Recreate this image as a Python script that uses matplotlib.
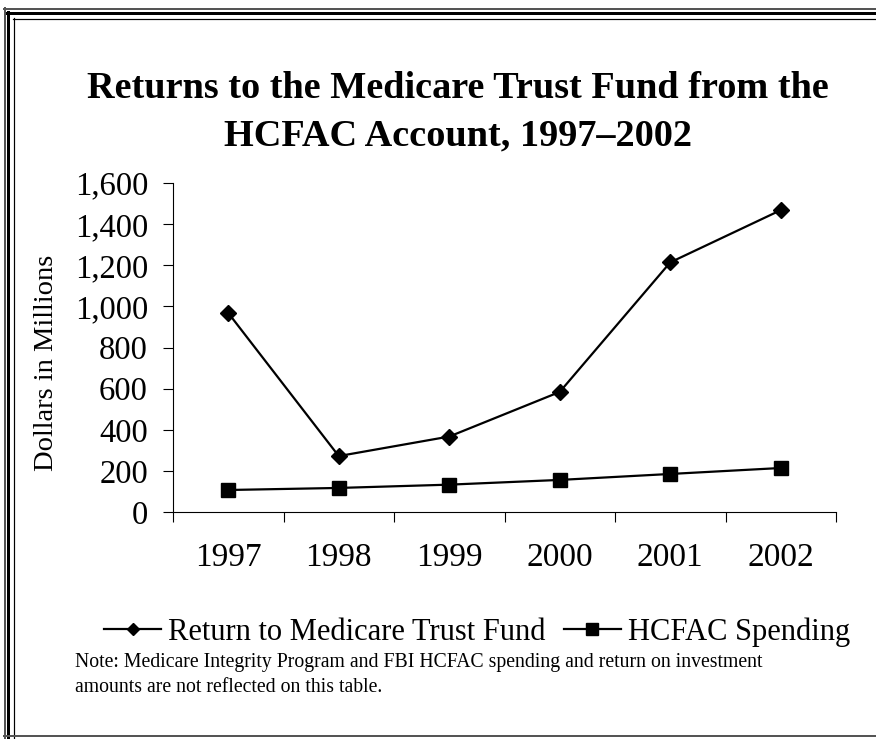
import numpy as np
import matplotlib.pyplot as plt
from matplotlib.lines import Line2D

years = ["1997", "1998", "1999", "2000", "2001", "2002"]
returns = [968, 272, 367, 584, 1214, 1468]
spending = [107, 117, 133, 156, 185, 214]
yticks = [0, 200, 400, 600, 800, 1000, 1200, 1400, 1600]

plt.rcParams["font.family"] = ["Liberation Serif", "DejaVu Serif"]

W, H = 876, 739
fig = plt.figure(figsize=(W / 100, H / 100), dpi=100)

# frame lines (pixel coords converted to figure fractions)
def hline(y, x0, x1, lw, color):
    fig.add_artist(Line2D([x0 / W, x1 / W], [1 - y / H, 1 - y / H], lw=lw * 0.72,
                          color=color, transform=fig.transFigure))

def vline(x, y0, y1, lw, color):
    fig.add_artist(Line2D([x / W, x / W], [1 - y0 / H, 1 - y1 / H], lw=lw * 0.72,
                          color=color, transform=fig.transFigure))

hline(8.5, 4, W, 2, "#555555")
hline(13, 6, W, 3, "black")
hline(18.5, 13, W, 1.2, "black")
vline(4.5, 8, H, 2, "#555555")
vline(7.5, 12, H, 3, "black")
vline(13.5, 18, H, 1.2, "black")
hline(736, 4, W, 2, "#555555")

ax = fig.add_axes([173 / W, 1 - 512 / H, 663 / W, 329 / H])
x = np.arange(len(years))
l1, = ax.plot(x, returns, color="black", lw=1.6, marker="D", markersize=8)
l2, = ax.plot(x, spending, color="black", lw=1.6, marker="s", markersize=10)

ax.set_xlim(-0.5, len(years) - 0.5)
ax.set_ylim(0, 1600)
ax.set_yticks(yticks)
ax.set_yticklabels([f"{v:,}" for v in yticks])
ax.set_xticks(np.arange(-0.5, len(years)))
ax.set_xticklabels([])
ax.set_xticks(x, minor=True)
ax.set_xticklabels(years, minor=True)
ax.tick_params(axis="x", which="major", direction="out", length=7, width=0.8)
ax.tick_params(axis="x", which="minor", length=0, pad=22, labelsize=24)
ax.tick_params(axis="y", direction="out", length=7, width=0.8, pad=11, labelsize=23.5)
for s in ["top", "right"]:
    ax.spines[s].set_visible(False)
ax.set_ylabel("Dollars in Millions", fontsize=20.5)
ax.yaxis.set_label_coords(-0.172, 0.453)

fig.text(0.523, 1 - 88 / H, "Returns to the Medicare Trust Fund from the",
         ha="center", va="center", fontsize=27.5, fontweight="bold")
fig.text(0.523, 1 - 136 / H, "HCFAC Account, 1997\u20132002",
         ha="center", va="center", fontsize=27.5, fontweight="bold")

fig.legend([l1, l2], ["Return to Medicare Trust Fund", "HCFAC Spending"],
           loc="center", bbox_to_anchor=(477 / W, 1 - 632 / H), ncol=2,
           frameon=False, fontsize=22, handlelength=1.86, handletextpad=0.23,
           columnspacing=0.6, markerscale=0.8)

fig.text(75 / W, 1 - 663 / H,
         "Note: Medicare Integrity Program and FBI HCFAC spending and return on investment",
         ha="left", va="center", fontsize=14.2)
fig.text(75 / W, 1 - 687 / H, "amounts are not reflected on this table.",
         ha="left", va="center", fontsize=14.2)

fig.savefig("out.png", dpi=100)
